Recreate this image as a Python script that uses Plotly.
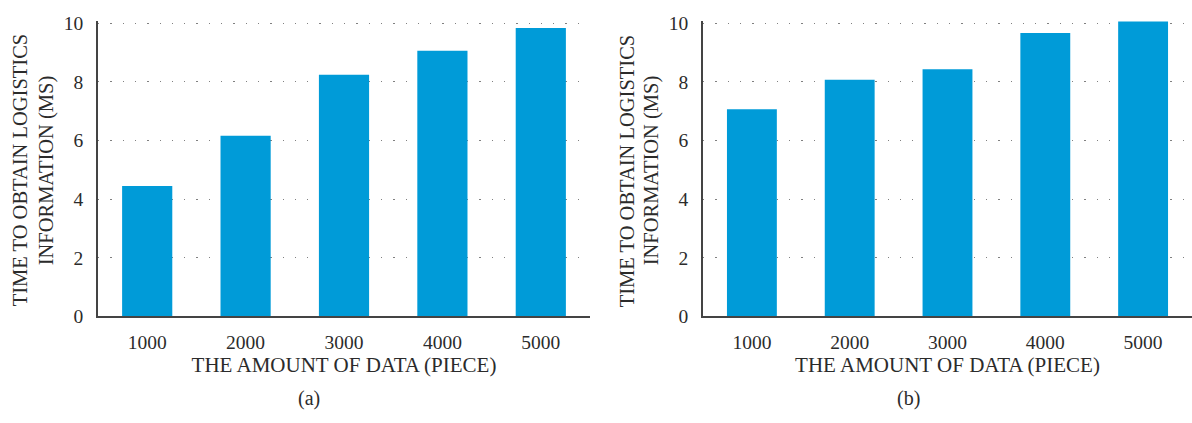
import plotly.graph_objects as go
from plotly.subplots import make_subplots

# Data
categories = ["1000", "2000", "3000", "4000", "5000"]
time_a = [4.45, 6.16, 8.24, 9.06, 9.84]
time_b = [7.07, 8.07, 8.43, 9.67, 10.06]
y_ticks = [0, 2, 4, 6, 8, 10]
x_title = "THE AMOUNT OF DATA (PIECE)"
y_title_lines = ["TIME TO OBTAIN LOGISTICS", "INFORMATION (MS)"]
captions = ["(a)", "(b)"]

W, H = 1192, 423
BAR = "#009BD8"
FONT = "Liberation Serif"
TXT = "#2b2b2b"

fig = make_subplots(rows=1, cols=2)
fig.add_trace(go.Bar(x=categories, y=time_a, marker_color=BAR, marker_line_width=0,
                     width=0.51, showlegend=False), row=1, col=1)
fig.add_trace(go.Bar(x=categories, y=time_b, marker_color=BAR, marker_line_width=0,
                     width=0.51, showlegend=False), row=1, col=2)

y_dom = [100 / H, (H - 13.5) / H]
x_doms = [[98 / W, 590 / W], [703 / W, 1.0]]

for i, dom in enumerate(x_doms, start=1):
    xa = "xaxis" if i == 1 else "xaxis2"
    ya = "yaxis" if i == 1 else "yaxis2"
    fig.layout[xa].update(
        domain=dom, type="category", range=[-0.5, 4.5],
        showline=True, linecolor="#444", linewidth=1.5,
        showgrid=False, zeroline=False,
        ticks="outside", ticklen=7, tickcolor="rgba(0,0,0,0)",
        tickfont=dict(family=FONT, size=19.5, color=TXT),
        title=dict(text=x_title, font=dict(family=FONT, size=21, color=TXT), standoff=5),
    )
    fig.layout[ya].update(
        domain=y_dom, range=[0, 10.08], tickvals=y_ticks,
        showline=True, linecolor="#444", linewidth=1.5,
        showgrid=True, gridcolor="#808080", gridwidth=1.3, griddash="1.3px,11px",
        zeroline=False,
        ticks="outside", ticklen=9, tickcolor="rgba(0,0,0,0)",
        tickfont=dict(family=FONT, size=19.5, color=TXT),
    )

# Two-line rotated y titles and panel captions
title_x = [[20, 46], [627, 651]]
for p in range(2):
    for j, line in enumerate(y_title_lines):
        fig.add_annotation(
            text=line, xref="paper", yref="paper",
            x=title_x[p][j] / W, y=(H - 170) / H,
            xanchor="center", yanchor="middle", textangle=-90, showarrow=False,
            font=dict(family=FONT, size=20.5, color=TXT),
        )
    cx = [309, 908][p]
    fig.add_annotation(
        text=captions[p], xref="paper", yref="paper",
        x=cx / W, y=(H - 409) / H, xanchor="center", yanchor="middle",
        showarrow=False, font=dict(family=FONT, size=20, color=TXT),
    )

fig.update_layout(
    width=W, height=H, margin=dict(l=0, r=0, t=0, b=0),
    plot_bgcolor="white", paper_bgcolor="white", bargap=0.49,
)

fig.write_html("out.html")
